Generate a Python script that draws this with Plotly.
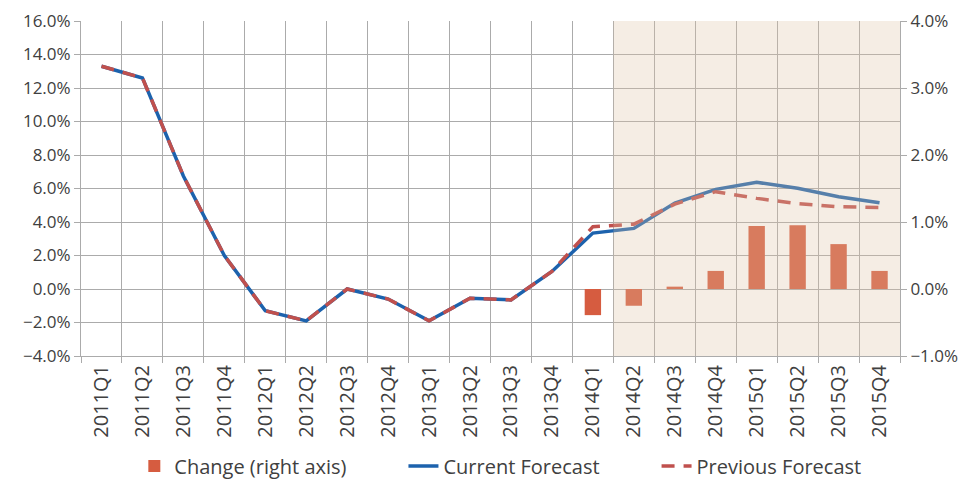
import plotly.graph_objects as go

quarters = ["2011Q1", "2011Q2", "2011Q3", "2011Q4", "2012Q1", "2012Q2", "2012Q3", "2012Q4",
            "2013Q1", "2013Q2", "2013Q3", "2013Q4", "2014Q1", "2014Q2", "2014Q3", "2014Q4",
            "2015Q1", "2015Q2", "2015Q3", "2015Q4"]
current_forecast = [13.3, 12.6, 6.75, 2.0, -1.3, -1.9, 0.0, -0.6, -1.9, -0.55, -0.65, 1.05,
                    3.34, 3.62, 5.13, 5.95, 6.37, 6.01, 5.51, 5.15]
previous_forecast = [13.3, 12.6, 6.75, 2.0, -1.3, -1.9, 0.0, -0.6, -1.9, -0.55, -0.65, 1.05,
                     3.72, 3.87, 5.07, 5.81, 5.41, 5.1, 4.91, 4.87]
change_quarters = ["2014Q1", "2014Q2", "2014Q3", "2014Q4", "2015Q1", "2015Q2", "2015Q3", "2015Q4"]
change = [-0.39, -0.25, 0.035, 0.27, 0.94, 0.95, 0.67, 0.27]

left_ticks = [-4, -2, 0, 2, 4, 6, 8, 10, 12, 14, 16]
right_ticks = [-1, 0, 1, 2, 3, 4]

FONT = "Open Sans"
TXT = "#404040"
GRID = "#ABABAB"
PAD = "\u00a0" * 10

fig = go.Figure()
fig.add_trace(go.Bar(x=change_quarters, y=[v / 100 for v in change], name="Change (right axis)" + PAD,
                     marker=dict(color="#D65C40", line=dict(width=0)), yaxis="y2"))
fig.add_trace(go.Scatter(x=quarters, y=[v / 100 for v in current_forecast], name="Current Forecast" + PAD,
                         mode="lines", line=dict(color="#1C62AD", width=3.5)))
fig.add_trace(go.Scatter(x=quarters, y=[v / 100 for v in previous_forecast], name="Previous Forecast",
                         mode="lines", line=dict(color="#C0504D", width=3.5, dash="13px,9px")))

fig.add_shape(type="rect", xref="x", yref="paper", x0=12.5, x1=19.5, y0=0, y1=1,
              fillcolor="rgba(222,196,165,0.30)", line=dict(width=0), layer="above")

# page body has an 8px margin: figure is shrunk so the plot lands at the reference position
fig.update_layout(
    width=962, height=474,
    margin=dict(l=73, r=70, t=13, b=126, autoexpand=False),
    paper_bgcolor="white", plot_bgcolor="white",
    font=dict(family=FONT, size=17, color=TXT),
    bargap=0.6,
    showlegend=True,
    legend=dict(orientation="h", x=0.512, xanchor="center", y=-0.328, yanchor="middle",
                font=dict(size=20, color=TXT), tracegroupgap=0),
    xaxis=dict(type="category", categoryorder="array", categoryarray=quarters,
               range=[-0.5, 19.5], tickson="boundaries", tickangle=-90, automargin=False,
               showgrid=True, gridcolor=GRID, gridwidth=1,
               showline=True, linecolor=GRID, linewidth=1,
               ticks="outside", ticklen=6, tickcolor=GRID,
               tickfont=dict(size=20, color=TXT)),
    yaxis=dict(range=[-0.04, 0.16], tickvals=[v / 100 for v in left_ticks], tickformat=".1%",
               automargin=False,
               showgrid=True, gridcolor=GRID, gridwidth=1, zeroline=False,
               showline=True, linecolor=GRID, linewidth=1,
               ticks="outside", ticklen=6, tickcolor=GRID,
               tickfont=dict(size=17, color=TXT)),
    yaxis2=dict(range=[-0.01, 0.04], tickvals=[v / 100 for v in right_ticks], tickformat=".1%",
                automargin=False,
                overlaying="y", side="right", showgrid=False, zeroline=False,
                showline=True, linecolor=GRID, linewidth=1,
                ticks="outside", ticklen=6, tickcolor=GRID,
                tickfont=dict(size=17, color=TXT)),
)

fig.write_html("out.html")
